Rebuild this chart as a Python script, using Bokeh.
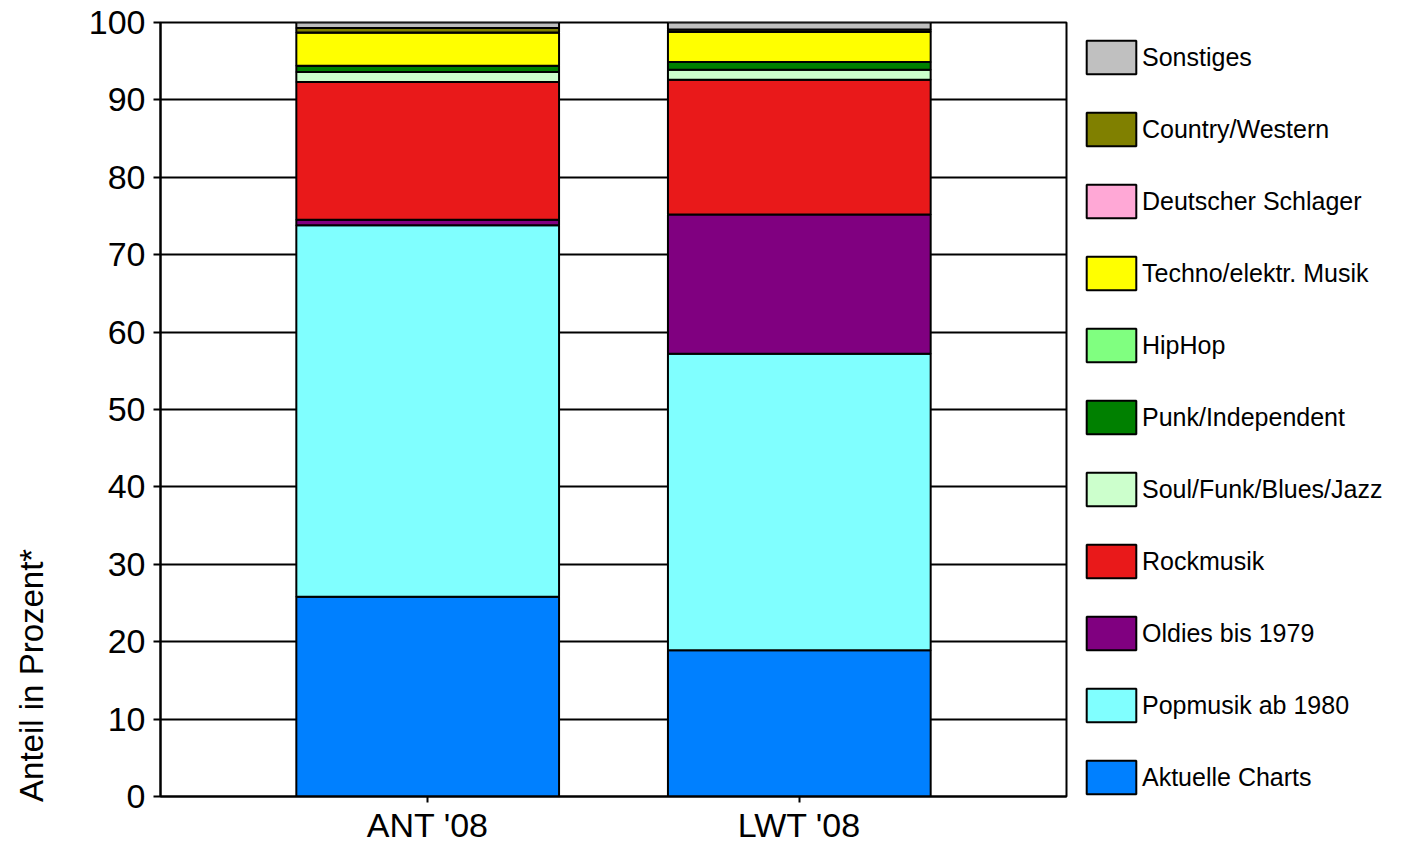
from bokeh.plotting import figure
from bokeh.models import (ColumnDataSource, FactorRange, Legend, LegendItem,
                          FixedTicker)
from bokeh.embed import file_html
from bokeh.resources import INLINE

# ---- data ----
categories = ["ANT '08", "LWT '08"]
aktuelle_charts = [25.8, 18.9]
popmusik_ab_1980 = [48.0, 38.3]
oldies_bis_1979 = [0.7, 18.0]
rockmusik = [17.8, 17.4]
soul_funk_blues_jazz = [1.3, 1.3]
punk_independent = [0.8, 1.0]
hiphop = [0.0, 0.0]
techno = [4.3, 3.9]
deutscher_schlager = [0.0, 0.0]
country_western = [0.6, 0.3]
sonstiges = [0.7, 0.9]

series_keys = ["aktuelle", "pop", "oldies", "rock", "soul", "punk", "hiphop",
               "techno", "schlager", "country", "sonst"]
series_labels = ["Aktuelle Charts", "Popmusik ab 1980", "Oldies bis 1979",
                 "Rockmusik", "Soul/Funk/Blues/Jazz", "Punk/Independent",
                 "HipHop", "Techno/elektr. Musik", "Deutscher Schlager",
                 "Country/Western", "Sonstiges"]
series_colors = ["#0080FF", "#80FFFF", "#800080", "#E9191A", "#CCFFCC",
                 "#008000", "#80FF80", "#FFFF00", "#FFA8D6", "#808000",
                 "#C0C0C0"]
y_ticks = [0, 10, 20, 30, 40, 50, 60, 70, 80, 90, 100]
y_title = "Anteil in Prozent*"

series_values = [aktuelle_charts, popmusik_ab_1980, oldies_bis_1979, rockmusik,
                 soul_funk_blues_jazz, punk_independent, hiphop, techno,
                 deutscher_schlager, country_western, sonstiges]

data = {"cat": categories}
for k, v in zip(series_keys, series_values):
    data[k] = v
source = ColumnDataSource(data)

FONT = "Liberation Sans"

p = figure(
    x_range=FactorRange(factors=categories, range_padding=0.219,
                        range_padding_units="absolute"),
    y_range=(0, 100),
    frame_width=906, frame_height=774,
    min_border_left=160, min_border_top=22, min_border_right=0,
    min_border_bottom=0,
    output_backend="svg", toolbar_location=None,
    background_fill_color="white", border_fill_color="white",
)

renderers = p.vbar_stack(series_keys, x="cat", width=0.707, source=source,
                         fill_color=series_colors, line_color="black",
                         line_width=2)

# grid / outline
p.xgrid.visible = False
p.ygrid.ticker = FixedTicker(ticks=y_ticks)
p.ygrid.grid_line_color = "black"
p.ygrid.grid_line_width = 2
p.outline_line_color = "black"
p.outline_line_width = 2

# y axis
p.yaxis.ticker = FixedTicker(ticks=y_ticks)
p.yaxis.minor_tick_line_color = None
p.yaxis.major_tick_out = 7
p.yaxis.major_tick_in = 0
p.yaxis.major_tick_line_width = 2
p.yaxis.axis_line_width = 2
p.yaxis.major_label_text_font = FONT
p.yaxis.major_label_text_font_size = "34px"
p.yaxis.major_label_text_color = "black"
p.yaxis.major_label_standoff = 8
# title sits low on the axis in the reference: pad its top end with
# non-breaking spaces so the visible words start near the bottom
p.yaxis.axis_label = y_title + "\u00a0" * 58
p.yaxis.axis_label_text_font = FONT
p.yaxis.axis_label_text_font_size = "33px"
p.yaxis.axis_label_text_font_style = "normal"
p.yaxis.axis_label_text_color = "black"
p.yaxis.axis_label_standoff = 36

# x axis
p.xaxis.major_tick_out = 6
p.xaxis.major_tick_in = 0
p.xaxis.major_tick_line_width = 2
p.xaxis.axis_line_width = 2
p.xaxis.major_label_text_font = FONT
p.xaxis.major_label_text_font_size = "34px"
p.xaxis.major_label_text_color = "black"
p.xaxis.major_label_standoff = 3

# legend (reverse order: Sonstiges on top)
items = [LegendItem(label=lab, renderers=[r])
         for lab, r in zip(series_labels, renderers)][::-1]
legend = Legend(items=items, location="top_left",
                glyph_width=62, glyph_height=42, spacing=30,
                label_standoff=0, padding=9, margin=14,
                label_text_font=FONT, label_text_font_size="25px",
                label_text_color="black",
                border_line_color=None, background_fill_alpha=0)
p.add_layout(legend, "right")

open("out.html", "w").write(file_html(p, INLINE))
